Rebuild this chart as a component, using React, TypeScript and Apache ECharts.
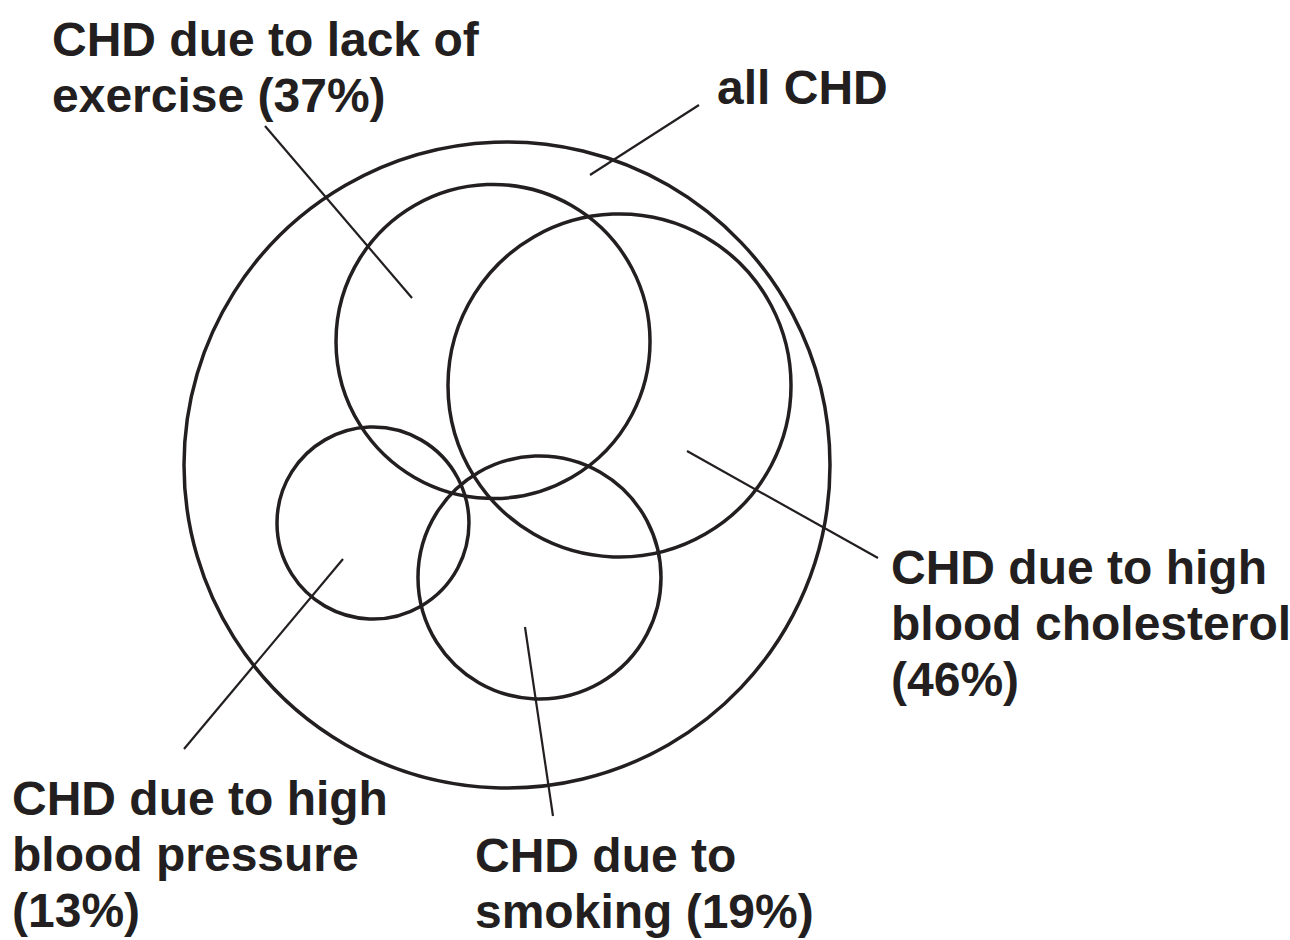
import React, { useEffect, useRef } from "react";
import * as echarts from "echarts";

// Sets (units: "all CHD" circle has radius 100, centred at 0,0; y grows downward)
const setNames = ["all CHD", "lack of exercise", "high blood cholesterol", "high blood pressure", "smoking"];
const setShares = [100, 37, 46, 13, 19];
const circleX = [0, -4.33, 34.83, -41.49, 10.06];
const circleY = [0, -38.24, -24.61, 17.96, 34.83];
const circleR = [100, 48.61, 53.1, 29.72, 37.62];

// Label texts
const labelTexts = [
  "all CHD",
  "CHD due to lack of\nexercise (37%)",
  "CHD due to high\nblood cholesterol\n(46%)",
  "CHD due to high\nblood pressure\n(13%)",
  "CHD due to\nsmoking (19%)",
];
// label anchor (left x, first baseline y)
const labelX = [65.02, -140.87, 118.89, -153.25, -9.91];
const labelY = [-112.07, -126.93, 36.84, 108.05, 125.7];

// leader lines: from label side to inside the circle
const leaderX1 = [59.44, -74.92, 114.86, -100, 14.24];
const leaderY1 = [-111.46, -104.95, 28.79, 87.93, 108.67];
const leaderX2 = [25.7, -29.41, 55.73, -50.77, 5.57];
const leaderY2 = [-89.78, -51.7, -4.33, 29.1, 50.15];

const INK = "#231f20";
const FONT = "'Liberation Sans', Arial, Helvetica, sans-serif";
const FS = 48;
const LH = 56;

export default function App() {
  const ref = useRef<HTMLDivElement>(null);
  useEffect(() => {
    document.body.style.margin = "0";
    const chart = echarts.init(ref.current!, null, { renderer: "svg" });
    const k = 3.23;
    const cx = 507;
    const cy = 465;
    const option: any = {
      animation: false,
      backgroundColor: "#ffffff",
      grid: { left: 0, right: 0, top: 0, bottom: 0 },
      xAxis: { type: "value", min: -cx / k, max: (1290 - cx) / k, show: false },
      yAxis: { type: "value", inverse: true, min: -cy / k, max: (940 - cy) / k, show: false },
      series: [
        {
          type: "custom",
          name: "circles",
          clip: false,
          data: setNames.map((n, i) => [circleX[i], circleY[i], circleR[i], setShares[i]]),
          renderItem: (params: any, api: any) => {
            const c = api.coord([api.value(0), api.value(1)]);
            const r = api.size([api.value(2), 0])[0];
            return {
              type: "circle",
              shape: { cx: c[0], cy: c[1], r },
              style: { fill: "none", stroke: INK, lineWidth: 3.5 },
            };
          },
        },
        {
          type: "custom",
          name: "leaders",
          clip: false,
          data: leaderX1.map((x, i) => [x, leaderY1[i], leaderX2[i], leaderY2[i]]),
          renderItem: (params: any, api: any) => {
            const a = api.coord([api.value(0), api.value(1)]);
            const b = api.coord([api.value(2), api.value(3)]);
            return {
              type: "line",
              shape: { x1: a[0], y1: a[1], x2: b[0], y2: b[1] },
              style: { stroke: INK, lineWidth: 2.2 },
            };
          },
        },
        {
          type: "custom",
          name: "labels",
          clip: false,
          data: labelX.map((x, i) => [x, labelY[i], i]),
          renderItem: (params: any, api: any) => {
            const p = api.coord([api.value(0), api.value(1)]);
            const idx = api.value(2);
            return {
              type: "text",
              x: p[0],
              y: p[1] - 16 - LH / 2,
              style: {
                text: labelTexts[idx],
                fontSize: FS,
                fontWeight: "bold",
                fontFamily: FONT,
                fill: INK,
                lineHeight: LH,
                align: "left",
                verticalAlign: "top",
              },
            };
          },
        },
      ],
    };
    chart.setOption(option);
    return () => chart.dispose();
  }, []);
  return <div ref={ref} style={{ width: 1290, height: 940 }} />;
}
